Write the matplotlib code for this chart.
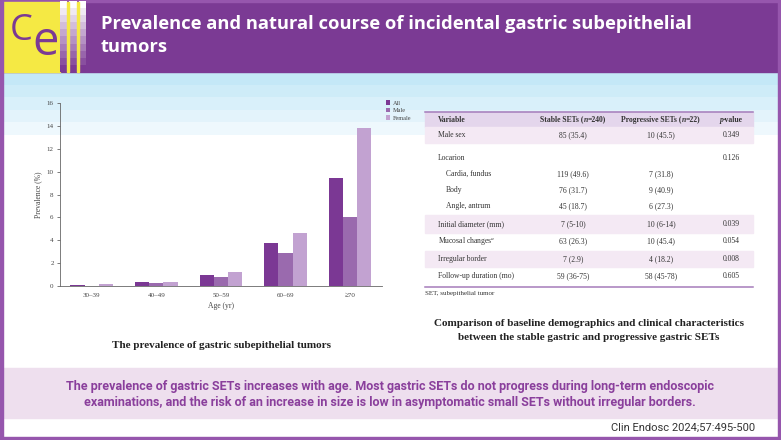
import numpy as np
import matplotlib
matplotlib.use("Agg")
import matplotlib.pyplot as plt
from matplotlib.patches import Rectangle

plt.rcParams["mathtext.fontset"] = "custom"
plt.rcParams["mathtext.rm"] = "Liberation Serif"
plt.rcParams["mathtext.it"] = "Liberation Serif:italic"

# bar chart data
age_groups = ["30–39", "40–49", "50–59", "60–69", "≥70"]
prev_all = [0.1, 0.35, 1.0, 3.8, 9.5]
prev_male = [0.0, 0.3, 0.8, 2.9, 6.0]
prev_female = [0.18, 0.35, 1.25, 4.65, 13.8]
series_names = ["All", "Male", "Female"]

# table data (header pieces: text, italic?)
table_header = [
    [("Variable", False)],
    [("Stable SETs (", False), ("n", True), ("=240)", False)],
    [("Progressive SETs (", False), ("n", True), ("=22)", False)],
    [("p", True), ("-value", False)],
]
row_labels = ["Male sex", "Locarion", "Cardia, fundus", "Body", "Angle, antrum",
              "Initial diameter (mm)", "Mucosal changes$^{a}$", "Irregular border",
              "Follow-up duration (mo)"]
stable_vals = ["85 (35.4)", "", "119 (49.6)", "76 (31.7)", "45 (18.7)",
               "7 (5-10)", "63 (26.3)", "7 (2.9)", "59 (36-75)"]
progressive_vals = ["10 (45.5)", "", "7 (31.8)", "9 (40.9)", "6 (27.3)",
                    "10 (6-14)", "10 (45.4)", "4 (18.2)", "58 (45-78)"]
p_vals = ["0.349", "0.126", "", "", "", "0.039", "0.054", "0.008", "0.605"]
sub_rows = [2, 3, 4]

title_lines = ["Prevalence and natural course of incidental gastric subepithelial", "tumors"]
chart_caption = "The prevalence of gastric subepithelial tumors"
table_caption = ("Comparison of baseline demographics and clinical characteristics\n"
                 "between the stable gastric and progressive gastric SETs")
table_note = "SET, subepithelial tumor"
summary = ("The prevalence of gastric SETs increases with age. Most gastric SETs do not progress during long-term endoscopic\n"
           "examinations, and the risk of an increase in size is low in asymptomatic small SETs without irregular borders.")
citation = "Clin Endosc 2024;57:495-500"

purple = "#7b3a94"
yellow = "#f5e944"
bar_colors = ["#7b3894", "#9a6aae", "#c2a2d1"]
serif = "Liberation Serif"

W, H = 781, 440
fig = plt.figure(figsize=(W / 100, H / 100), dpi=100)
fig.patch.set_facecolor("white")

bg = fig.add_axes([0, 0, 1, 1])
bg.set_zorder(0)
bg.axis("off")

# light blue band under the header
grad = np.linspace(0, 1, 5).reshape(-1, 1)
top_c = np.array([0xc4, 0xe8, 0xf7]) / 255
bot_c = np.array([0xee, 0xf8, 0xfd]) / 255
band = top_c + (bot_c - top_c) * grad
bg.imshow(band[:, None, :].repeat(2, axis=1), extent=(3, 778, 135, 72), aspect="auto",
          interpolation="nearest", zorder=1)

# header
bg.add_patch(Rectangle((0, 0), W, 72.5, color=purple, zorder=2))
bg.add_patch(Rectangle((0, 0), W, 2, color="#9656ad", zorder=2))
bg.add_patch(Rectangle((2, 2), 58, 70.5, color=yellow, zorder=3))
stripe = np.linspace(0, 1, 10).reshape(-1, 1)
white = np.array([1.0, 1.0, 1.0])
pc = np.array([0x7b, 0x3a, 0x94]) / 255
stripe_img = (white + (pc - white) * stripe)[:, None, :].repeat(2, axis=1)
for x0, x1 in [(60, 67), (69, 77), (79, 86)]:
    bg.imshow(stripe_img, extent=(x0, x1, 72.5, 2), aspect="auto", interpolation="nearest", zorder=3)
for x0 in [67, 77]:
    bg.add_patch(Rectangle((x0, 2), 2, 70.5, color=yellow, zorder=3))
bg.text(33, 31, "C", color=purple, fontsize=26, family="Open Sans", ha="right", va="center", zorder=4)
bg.text(32, 55, "e", color=purple, fontsize=34, family="Open Sans", ha="left", va="baseline",
        zorder=4)
bg.text(101, 29.3, title_lines[0], color="white", fontsize=13.2, family="Open Sans",
        fontweight="bold", va="baseline", ha="left", zorder=4)
bg.text(101, 51.7, title_lines[1], color="white", fontsize=13.2, family="Open Sans",
        fontweight="bold", va="baseline", ha="left", zorder=4)

# summary band and borders
bg.add_patch(Rectangle((0, 368), W, 50, color="#eedfee", zorder=2))
bg.text(390, 394.5, summary, color="#8a3f9c", fontsize=9, family="Roboto", fontweight="bold",
        ha="center", va="center", linespacing=1.35, zorder=4)
bg.text(755, 428, citation, color="#333333", fontsize=8, family="Roboto", ha="right",
        va="center", zorder=4)
bg.add_patch(Rectangle((0, 0), 3, H, color="#9656ad", zorder=5))
bg.add_patch(Rectangle((W - 3, 0), 3, H, color="#9656ad", zorder=5))
bg.add_patch(Rectangle((0, H - 3), W, 3, color="#9656ad", zorder=5))

# table
tx0, tx1 = 425, 753
bg.add_patch(Rectangle((tx0, 112), tx1 - tx0, 15, color="#e4d6ec", zorder=2))
for y0, h in [(127, 16), (215.5, 17.5), (251, 16)]:
    bg.add_patch(Rectangle((tx0, y0), tx1 - tx0, h, color="#f4e9f4", zorder=2))
bg.plot([tx0, tx1], [111.7, 111.7], color="#a57cbb", lw=1.1, zorder=3)
bg.plot([tx0, tx1], [287, 287], color="#a57cbb", lw=1.1, zorder=3)

col_x = [438, 573, 661, 731]
renderer = fig.canvas.get_renderer()


def header_cell(x, y, pieces, align):
    # bold header with italic pieces, laid out piece by piece on one baseline
    arts = []
    for s, ital in pieces:
        t = bg.text(0, y, s, family=serif, fontweight="bold",
                    fontstyle="italic" if ital else "normal", fontsize=5.5,
                    color="#333333", ha="left", va="baseline", zorder=4)
        arts.append(t)
    widths = [t.get_window_extent(renderer).width for t in arts]
    start = x if align == "left" else x - sum(widths) / 2
    for t, w in zip(arts, widths):
        t.set_x(start)
        start += w


for j, pieces in enumerate(table_header):
    header_cell(col_x[j], 121.5, pieces, "left" if j == 0 else "center")

row_y = [135, 158, 174, 190, 206, 224, 241, 259, 276]
for i, y in enumerate(row_y):
    lx = 446 if i in sub_rows else 438
    bg.text(lx, y, row_labels[i], family=serif, fontsize=5.5, color="#333333",
            ha="left", va="center", zorder=4)
    bg.text(col_x[1], y, stable_vals[i], family=serif, fontsize=5.5, color="#333333",
            ha="center", va="center", zorder=4)
    bg.text(col_x[2], y, progressive_vals[i], family=serif, fontsize=5.5, color="#333333",
            ha="center", va="center", zorder=4)
    bg.text(col_x[3], y, p_vals[i], family=serif, fontsize=5.5, color="#333333",
            ha="center", va="center", zorder=4)

bg.text(425, 293, table_note, family=serif, fontsize=5, color="#333333",
        ha="left", va="center", zorder=4)
bg.text(589, 330.2, table_caption, family=serif, fontweight="bold", fontsize=8,
        color="#222222", ha="center", va="center", linespacing=1.75, zorder=4)
bg.text(221, 345, chart_caption, family=serif, fontweight="bold", fontsize=8,
        color="#222222", ha="center", va="center", zorder=4)

bg.set_xlim(0, W)
bg.set_ylim(H, 0)

# bar chart
ax = fig.add_axes([60 / W, 1 - 286 / H, (381.7 - 60) / W, (286 - 103.3) / H])
ax.set_zorder(1)
ax.patch.set_visible(False)
x = np.arange(len(age_groups))
bw = 0.22
for k, (vals, name) in enumerate(zip([prev_all, prev_male, prev_female], series_names)):
    ax.bar(x + (k - 1) * bw, vals, width=bw, color=bar_colors[k], label=name)
ax.set_xlim(-0.49, 4.49)
ax.set_ylim(0, 16)
ax.set_yticks(range(0, 17, 2))
ax.set_xticks(x)
ax.set_xticklabels(age_groups)
for s in ["top", "right"]:
    ax.spines[s].set_visible(False)
for s in ["left", "bottom"]:
    ax.spines[s].set_color("#666666")
    ax.spines[s].set_linewidth(0.6)
ax.tick_params(axis="y", length=2.5, width=0.6, color="#666666", pad=2)
ax.tick_params(axis="x", length=0, pad=5)
for lab in ax.get_xticklabels() + ax.get_yticklabels():
    lab.set_family(serif)
    lab.set_fontsize(5)
    lab.set_color("#444444")
ax.set_xlabel("Age (yr)", family=serif, fontsize=5.5, color="#444444", labelpad=3)
ax.set_ylabel("Prevalence (%)", family=serif, fontsize=5.5, color="#444444", labelpad=3)
ax.legend(loc="upper left", bbox_to_anchor=(1.005, 1.03), frameon=False,
          prop={"family": serif, "size": 4.5}, handlelength=0.7, handleheight=0.7,
          handletextpad=0.4, labelspacing=0.35, borderaxespad=0, labelcolor="#444444")

fig.savefig("out.png", dpi=100)
